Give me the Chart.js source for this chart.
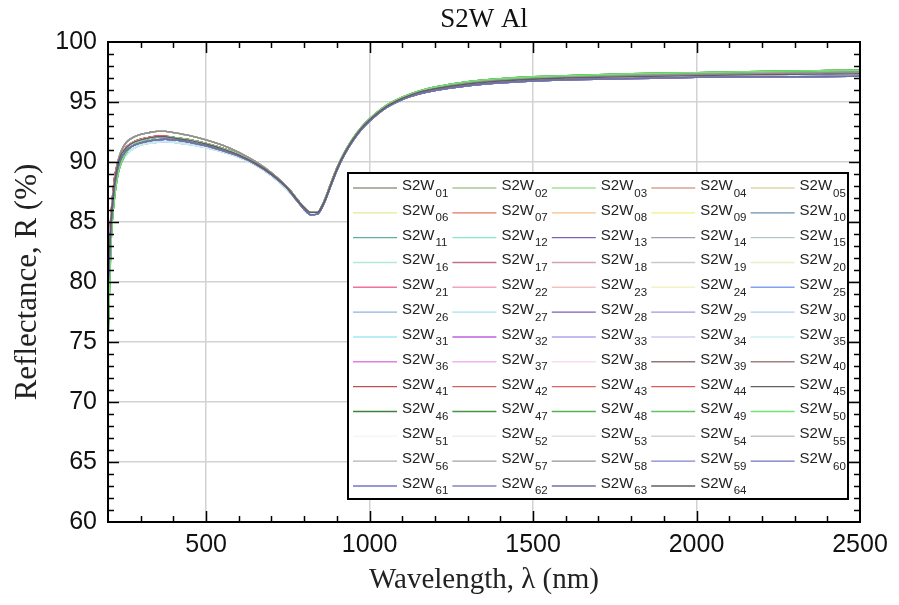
<!DOCTYPE html>
<html><head><meta charset="utf-8">
<script src="https://cdn.jsdelivr.net/npm/chart.js@4/dist/chart.umd.min.js"></script>
<style>html,body{margin:0;padding:0;background:#fff}#wrap{width:899px;height:605px}</style>
</head><body><div id="wrap"><canvas id="c" width="899" height="605"></canvas></div>
<script>
// ---------- DATA ----------
const chartTitle = 'S2W Al';
const xTitle = 'Wavelength, \u03bb (nm)';
const yTitle = 'Reflectance, R (%)';
const xTicks = [500, 1000, 1500, 2000, 2500];
const yTicks = [60, 65, 70, 75, 80, 85, 90, 95, 100];

const wavelengths = [200,210,220,230,240,250,260,280,300,325,350,375,400,450,500,550,600,650,700,750,780,800,820,840,860,880,900,925,950,975,1000,1050,1100,1150,1200,1300,1400,1500,1600,1800,2000,2200,2400,2500];

// curve families
const curveUpper = [79.5,85.2,88.3,90.0,90.9,91.4,91.75,92.1,92.3,92.45,92.55,92.55,92.45,92.2,91.85,91.4,90.8,90.05,89.1,87.85,86.85,86.2,85.8,85.8,86.7,88.1,89.5,90.85,91.95,92.85,93.55,94.6,95.3,95.8,96.1,96.55,96.8,96.95,97.05,97.2,97.3,97.38,97.45,97.5];
const curveMid = [80.5,85.5,88.3,89.8,90.6,91.0,91.3,91.65,91.85,92.0,92.1,92.1,92.0,91.8,91.5,91.1,90.6,89.9,89.0,87.8,86.8,86.2,85.8,85.8,86.6,88.0,89.4,90.8,91.9,92.8,93.5,94.6,95.3,95.8,96.1,96.5,96.75,96.9,97.0,97.1,97.2,97.28,97.33,97.35];
const curveLower = [76.0,84.0,87.3,89.0,89.9,90.4,90.75,91.15,91.4,91.55,91.65,91.7,91.65,91.45,91.2,90.85,90.4,89.75,88.85,87.65,86.7,86.1,85.7,85.75,86.5,87.9,89.3,90.7,91.8,92.7,93.4,94.5,95.2,95.7,96.0,96.4,96.65,96.8,96.9,97.0,97.1,97.15,97.2,97.22];
const curveGreen = [75.0,83.6,87.0,88.9,89.9,90.5,90.95,91.45,91.7,91.95,92.05,92.1,92.05,91.85,91.55,91.15,90.65,89.95,89.05,87.85,86.85,86.2,85.8,85.8,86.7,88.1,89.5,90.9,92.0,92.9,93.6,94.7,95.4,95.9,96.25,96.7,96.95,97.1,97.2,97.35,97.45,97.55,97.62,97.65];
const curveBlue = [79.5,85.0,88.0,89.5,90.3,90.75,91.05,91.4,91.6,91.75,91.85,91.9,91.85,91.65,91.35,90.95,90.5,89.85,88.95,87.75,86.7,86.05,85.6,85.65,86.5,87.9,89.3,90.7,91.8,92.7,93.4,94.5,95.2,95.65,95.95,96.35,96.6,96.75,96.85,96.95,97.05,97.1,97.12,97.15];
const curveRed = [81.8,85.9,88.7,90.0,90.7,91.05,91.35,91.7,91.9,92.05,92.15,92.15,92.05,91.85,91.55,91.15,90.65,89.95,89.0,87.8,86.8,86.2,85.8,85.8,86.6,88.0,89.4,90.8,91.9,92.8,93.5,94.6,95.3,95.8,96.1,96.5,96.75,96.9,97.0,97.1,97.2,97.28,97.33,97.35];

const seriesNumbers = ['01','02','03','04','05','06','07','08','09','10','11','12','13','14','15','16','17','18','19','20','21','22','23','24','25','26','27','28','29','30','31','32','33','34','35','36','37','38','39','40','41','42','43','44','45','46','47','48','49','50','51','52','53','54','55','56','57','58','59','60','61','62','63','64'];
const seriesColors = ['#9a9688','#a9c894','#a4e096','#d9a293','#ddd6a2','#e6e894','#e8735f','#f2c283','#f2f080','#6a8fb0',
  '#62b0a0','#86e8c8','#8060b0','#a39ab2','#b2c8c8','#b4e8d8','#c07090','#d2a2b2','#c9c9c9','#e8f0c8',
  '#f070a0','#f2a2c2','#f2c4c0','#f2f2c2','#82a2f0','#92b2e0','#a2e2f0','#7e5cc0','#a494e2','#b2cbf2',
  '#a2e8f0','#c060e0','#b2a2f0','#d2caf2','#c8f2f0','#e080e0','#f2b2f0','#f8dcf2','#907878','#a08282',
  '#c05050','#d46060','#e06262','#e05858','#606060','#3f7f3f','#449444','#52b252','#62c462','#74e274',
  '#f6f6f6','#eeeeee','#e0e0e0','#d2d2d2','#c2c2c2','#b2b2b2','#a2a2a2','#929292','#8282d2','#7272c4',
  '#7474c8','#8484c2','#7272a2','#606060'];
const seriesCurve = ['U','U','L','U','U','U','M','U','U','B',
  'L','L','M','M','L','L','R','M','U','U',
  'R','M','M','U','B','B','L','M','B','L',
  'L','M','B','L','L','M','M','M','U','U',
  'R','R','R','R','M','G','G','G','G','G',
  'M','M','M','M','M','U','U','U','B','B',
  'B','B','B','M'];
const curveByKey = {U: curveUpper, M: curveMid, L: curveLower, G: curveGreen, B: curveBlue, R: curveRed};

// ---------- CHART ----------
const FRAME = {left:108, top:42, right:860, bottom:522};

const datasets = seriesNumbers.map((n, i) => ({
  label: 'S2W' + n,
  data: wavelengths.map((w, k) => ({x: w, y: curveByKey[seriesCurve[i]][k]})),
  borderColor: seriesColors[i],
  backgroundColor: seriesColors[i],
  borderWidth: 1.4,
  pointRadius: 0,
  cubicInterpolationMode: 'monotone',
  fill: false,
  order: -i
}));

const innerTicks = {
  id: 'innerTicks',
  afterDraw(chart) {
    const {ctx, chartArea: a, scales: {x, y}} = chart;
    ctx.save();
    ctx.strokeStyle = '#000';
    ctx.lineWidth = 1.5;
    ctx.beginPath();
    for (let v = 300; v < 2500; v += 100) {
      const px = Math.round(x.getPixelForValue(v)) + 0.5;
      const len = (v % 500 === 0) ? 11 : 6;
      ctx.moveTo(px, a.bottom); ctx.lineTo(px, a.bottom - len);
      ctx.moveTo(px, a.top); ctx.lineTo(px, a.top + len);
    }
    for (let v = 61; v < 100; v += 1) {
      const py = Math.round(y.getPixelForValue(v)) + 0.5;
      const len = (v % 5 === 0) ? 11 : 6;
      ctx.moveTo(a.left, py); ctx.lineTo(a.left + len, py);
      ctx.moveTo(a.right, py); ctx.lineTo(a.right - len, py);
    }
    ctx.stroke();
    ctx.lineWidth = 2;
    ctx.strokeRect(a.left, a.top, a.right - a.left, a.bottom - a.top);
    ctx.restore();
  }
};

const boxLegend = {
  id: 'boxLegend',
  afterDatasetsDraw(chart) {
    const ctx = chart.ctx;
    const L = 348, T = 173, R = 848, B = 499;
    ctx.save();
    ctx.fillStyle = '#fff';
    ctx.fillRect(L, T, R - L, B - T);
    ctx.strokeStyle = '#000';
    ctx.lineWidth = 2;
    ctx.strokeRect(L, T, R - L, B - T);
    const colPitch = 99.4, rowPitch = 24.83;
    chart.data.datasets.forEach((ds, i) => {
      const col = i % 5, row = Math.floor(i / 5);
      const x0 = 353 + col * colPitch;
      const yl = 188 + row * rowPitch;
      ctx.strokeStyle = ds.borderColor;
      ctx.lineWidth = 1.4;
      ctx.beginPath();
      ctx.moveTo(x0, yl); ctx.lineTo(x0 + 44, yl);
      ctx.stroke();
      ctx.fillStyle = '#222';
      ctx.textBaseline = 'alphabetic';
      ctx.textAlign = 'left';
      ctx.font = '15px "Liberation Sans", Arial, sans-serif';
      const main = 'S2W';
      ctx.fillText(main, x0 + 49, yl + 2);
      const w = ctx.measureText(main).width;
      ctx.font = '11.5px "Liberation Sans", Arial, sans-serif';
      ctx.fillText(seriesNumbers[i], x0 + 49 + w + 1, yl + 8.5);
    });
    ctx.restore();
  }
};

new Chart(document.getElementById('c'), {
  type: 'line',
  data: {datasets},
  options: {
    responsive: false,
    animation: false,
    devicePixelRatio: 1,
    layout: {padding: {top: 0.4, right: 899 - FRAME.right, left: 0, bottom: 0}},
    plugins: {
      legend: {display: false},
      tooltip: {enabled: false},
      title: {
        display: true, text: chartTitle, fullSize: false,
        color: '#111',
        font: {family: '"Liberation Serif", "DejaVu Serif", serif', size: 27, weight: 'normal'},
        padding: {top: 3, bottom: 6.2}
      }
    },
    scales: {
      x: {
        type: 'linear', min: 200, max: 2500,
        afterBuildTicks: s => { s.ticks = xTicks.map(v => ({value: v})); },
        afterFit: s => { s.height = 605 - FRAME.bottom; },
        grid: {color: '#d2d2d2', lineWidth: 1.5, drawTicks: false},
        border: {display: false},
        ticks: {color: '#111', padding: 8, maxRotation: 0, autoSkip: false,
          callback: v => String(v),
          font: {family: '"Liberation Sans", Arial, sans-serif', size: 25}},
        title: {display: true, text: xTitle, color: '#222',
          font: {family: '"Liberation Serif", "DejaVu Serif", serif', size: 29},
          padding: {top: 0, bottom: 7}}
      },
      y: {
        min: 60, max: 100,
        afterBuildTicks: s => { s.ticks = yTicks.map(v => ({value: v})); },
        afterFit: s => { s.width = FRAME.left; },
        grid: {color: '#d2d2d2', lineWidth: 1.5, drawTicks: false},
        border: {display: false},
        ticks: {color: '#111', padding: 11,
          callback: v => String(v),
          font: {family: '"Liberation Sans", Arial, sans-serif', size: 25}},
        title: {display: true, text: yTitle, color: '#222',
          font: {family: '"Liberation Serif", "DejaVu Serif", serif', size: 31},
          padding: {top: 9, bottom: 0}}
      }
    }
  },
  plugins: [boxLegend, innerTicks]
});
</script></body></html>
